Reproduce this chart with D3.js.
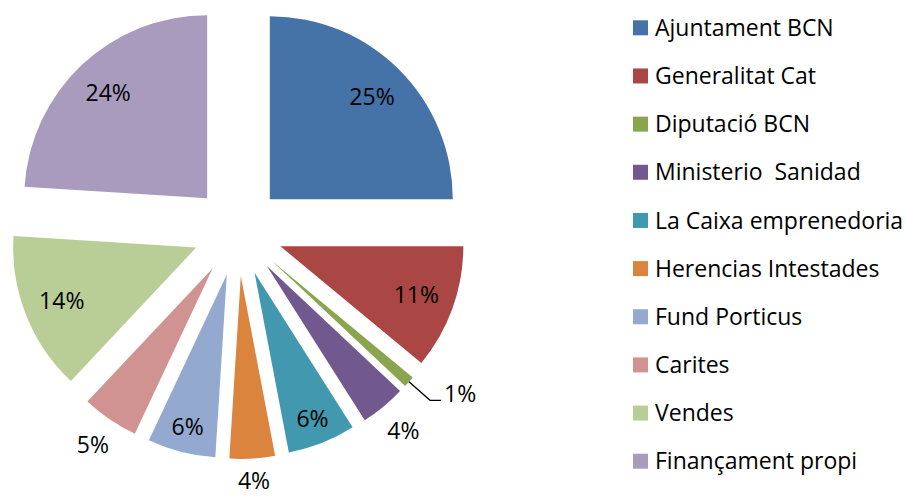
<!DOCTYPE html>
<html>
<head>
<meta charset="utf-8">
<title>Finançament</title>
<script src="https://d3js.org/d3.v7.min.js"></script>
<style>
    body { margin: 0; background: #ffffff; }
    svg { display: block; }
    text { font-family: "Open Sans", sans-serif; font-size: 23px; fill: #000; }
</style>
</head>
<body>
<div id="chart"></div>
<script>

// categories and shares (%)
const categories = ["Ajuntament BCN", "Generalitat Cat", "Diputació BCN", "Ministerio  Sanidad",
    "La Caixa emprenedoria", "Herencias Intestades", "Fund Porticus", "Carites", "Vendes", "Finançament propi"];
const shares = [25, 11, 1, 4, 6, 4, 6, 5, 14, 24];
const colors = ["#4572A7", "#AA4643", "#89A54E", "#71588F", "#4198AF",
    "#DB843D", "#93A9CF", "#D19392", "#B9CD96", "#A99BBD"];

const W = 905, H = 496;
const cx = 238, cy = 231;
const r = 183;        // pie radius
const explode = 45;   // distance each slice is pulled out

const svg = d3.select("#chart").append("svg")
    .attr("width", W)
    .attr("height", H);

const pie = d3.pie().sort(null).value(d => d)(shares);
const arc = d3.arc().innerRadius(0).outerRadius(r);

// direction of a slice's middle (d3 angles: 0 at top, clockwise)
const dir = d => {
    const a = (d.startAngle + d.endAngle) / 2;
    return [Math.sin(a), -Math.cos(a)];
};

const slices = svg.append("g")
    .attr("transform", `translate(${cx},${cy})`)
    .selectAll("g")
    .data(pie)
    .join("g")
    .attr("transform", d => {
        const [ux, uy] = dir(d);
        return `translate(${ux * explode},${uy * explode})`;
    });

slices.append("path")
    .attr("d", arc)
    .attr("fill", (d, i) => colors[i]);

// data labels
slices.each(function (d, i) {
    const g = d3.select(this);
    const [ux, uy] = dir(d);
    const label = shares[i] + "%";

    if (d.value < 2) {
        // tiny slice: leader line out to the label
        const x1 = ux * r, y1 = uy * r;
        const x2 = ux * (r + 28), y2 = uy * (r + 28);
        g.append("path")
            .attr("d", `M${x1},${y1}L${x2},${y2}H${x2 + 11}`)
            .attr("fill", "none")
            .attr("stroke", "#000")
            .attr("stroke-width", 1.3);
        g.append("text")
            .attr("x", x2 + 14)
            .attr("y", y2 - 6)
            .attr("dy", "0.35em")
            .text(label);
    } else if (d.value < 6) {
        // outside end
        const t = g.append("text")
            .attr("text-anchor", "middle")
            .attr("dy", "0.35em")
            .text(label);
        const hw = t.node().getComputedTextLength() / 2 + 2, hh = 15;
        const edge = Math.min(hw / Math.abs(ux || 1e-6), hh / Math.abs(uy || 1e-6));
        const dist = r + 12 + edge;
        // keep the label inside the picture at the bottom
        const maxY = H - 15 - cy - uy * explode;
        t.attr("x", ux * dist).attr("y", Math.min(uy * dist, maxY));
    } else {
        // inside
        const dist = r * (d.value >= 10 ? 0.79 : 0.86);
        g.append("text")
            .attr("x", ux * dist)
            .attr("y", uy * dist)
            .attr("text-anchor", "middle")
            .attr("dy", "0.35em")
            .text(label);
    }
});

// legend
const legend = svg.append("g")
    .selectAll("g")
    .data(categories)
    .join("g")
    .attr("transform", (d, i) => `translate(633,${27.8 + i * 48.16})`);

legend.append("rect")
    .attr("x", 0)
    .attr("y", -7.5)
    .attr("width", 15)
    .attr("height", 15)
    .attr("fill", (d, i) => colors[i]);

legend.append("text")
    .attr("x", 22)
    .attr("y", 0)
    .attr("dy", "0.35em")
    .style("white-space", "pre")
    .text(d => d);

</script>
</body>
</html>
